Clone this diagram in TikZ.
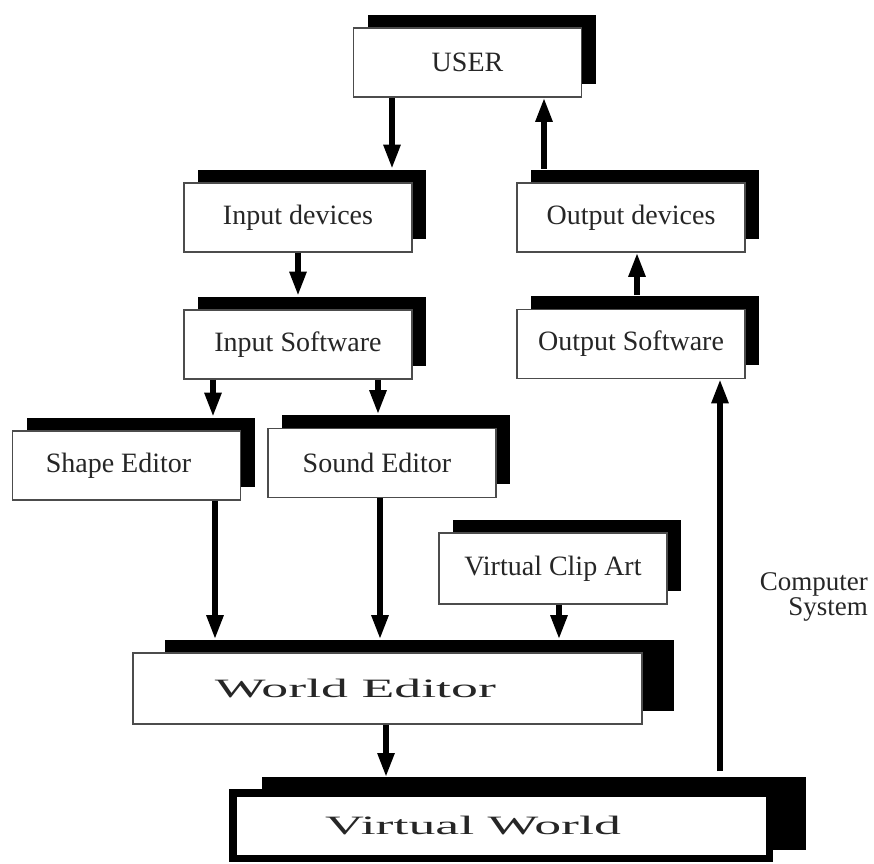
\documentclass[tikz,border=0pt]{standalone}
\usepackage{fontspec}
\setmainfont{Liberation Serif}
\usetikzlibrary{arrows.meta,shadows}
\tikzset{
  box/.style={draw=black!70, line width=1.6pt, fill=white, inner sep=0pt,
    minimum width=228pt, minimum height=69pt,
    font=\fontsize{28}{30}\selectfont, text=black!85,
    general shadow={fill=black, shadow xshift=14pt, shadow yshift=13.5pt}},
  bigbox/.style={draw=black!70, line width=1.6pt, fill=white, inner sep=0pt,
    text=black!85,
    general shadow={fill=black, shadow xshift=31.5pt, shadow yshift=13pt}},
  vwbox/.style={draw=black, line width=7.5pt, fill=white, inner sep=0pt,
    text=black!85,
    general shadow={fill=black, draw=black, line width=7.5pt, shadow xshift=32.5pt, shadow yshift=12pt}},
  arr/.style={line width=5.5pt, -{Triangle[length=24pt,width=16pt]}},
  sidelabel/.style={anchor=north east, align=right, inner sep=0pt,
    font=\fontsize{27}{25}\selectfont, text=black!85},
}
\newcommand{\widetext}[1]{\scalebox{2.03}[1]{\fontsize{26.5}{28}\selectfont #1}}
\begin{document}
\begin{tikzpicture}[x=1pt,y=-1pt]
\useasboundingbox (0,0) rectangle (874,863);
% boxes
\node[box] (user) at (467.5,62.5) {USER};
\node[box] (indev) at (298,217.5) {Input devices};
\node[box] (insw) at (298,344.5) {Input Software};
\node[box] (outdev) at (631,217.5) {Output devices};
\node[box] (outsw) at (631,344) {Output Software};
\node[box] (shape) at (126.5,465.5) {\hskip-16pt Shape Editor};
\node[box] (sound) at (382,463) {\hskip-10pt Sound Editor};
\node[box, minimum height=71pt] (clip) at (553,568.5) {Virtual Clip Art};
\node[bigbox, minimum width=509pt, minimum height=71pt] (we) at (387.5,688.5) {\hskip-64pt\widetext{World Editor}};
\node[vwbox, minimum width=536.5pt, minimum height=65.5pt] (vw) at (501,825.5) {\hskip-56pt\widetext{Virtual World}};
\node[sidelabel] (cslabel) at (868,572) {Computer\\System};
% shadow tops
\coordinate (indevT) at ([yshift=13.5pt]indev.north);
\coordinate (inswT) at ([yshift=13.5pt]insw.north);
\coordinate (outdevT) at ([yshift=13.5pt]outdev.north);
\coordinate (outswT) at ([yshift=13.5pt]outsw.north);
\coordinate (shapeT) at ([yshift=13.5pt]shape.north);
\coordinate (soundT) at ([yshift=13.5pt]sound.north);
\coordinate (weT) at ([yshift=13pt]we.north);
\coordinate (vwT) at ([yshift=12pt]vw.north);
\coordinate (csbase) at (720,771);
% connectors
\draw[arr] (user.south -| 392,0) -- (indevT -| 392,0);
\draw[arr] (outdevT -| 544,0) -- (user.south -| 544,0);
\draw[arr] (indev.south -| 298,0) -- (inswT -| 298,0);
\draw[arr] (outswT -| 637,0) -- (outdev.south -| 637,0);
\draw[arr] (insw.south -| 213,0) -- (shapeT -| 213,0);
\draw[arr] (insw.south -| 378,0) -- (soundT -| 378,0);
\draw[arr] (shape.south -| 215,0) -- (weT -| 215,0);
\draw[arr] (sound.south -| 380,0) -- (weT -| 380,0);
\draw[arr] (clip.south -| 559,0) -- (weT -| 559,0);
\draw[arr] (we.south -| 386,0) -- (vwT -| 386,0);
\draw[arr] (csbase) -- (outsw.south -| csbase);
\end{tikzpicture}
\end{document}
